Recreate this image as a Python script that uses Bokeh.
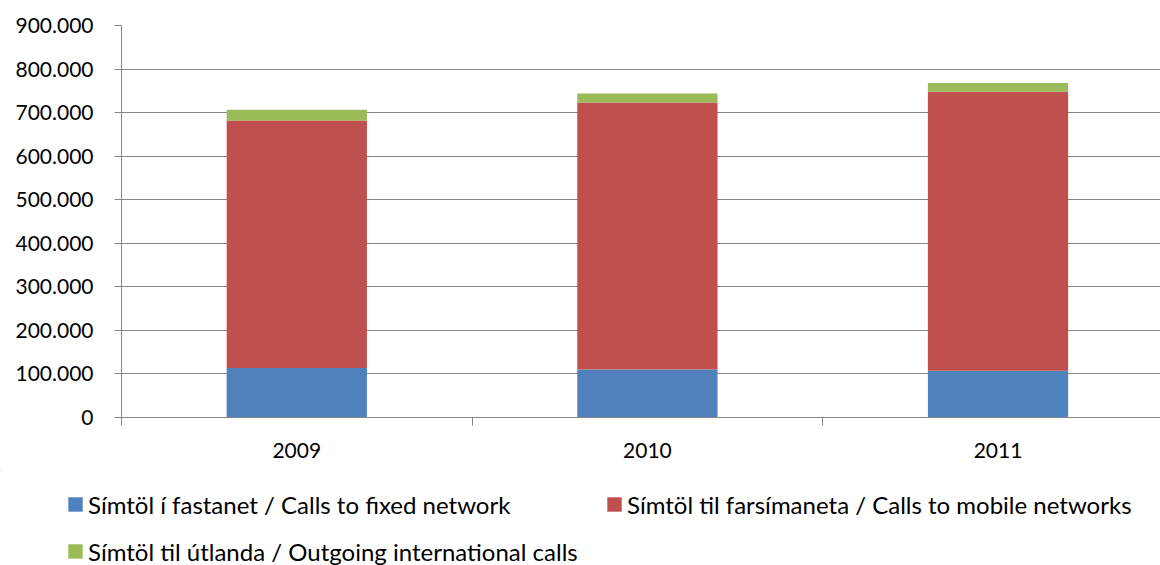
from bokeh.plotting import figure
from bokeh.models import (ColumnDataSource, FixedTicker, Range1d, Legend, LegendItem)
from bokeh.layouts import column
from bokeh.embed import file_html
from bokeh.resources import INLINE

# ---- data ----
years = ["2009", "2010", "2011"]
x_pos = [1, 2, 3]
fixed = [113500, 110000, 107500]
mobile = [568500, 613500, 640500]
international = [24500, 20500, 20000]
series_names = [
    "Símtöl í fastanet / Calls to fixed network",
    "Símtöl til farsímaneta / Calls to mobile networks",
    "Símtöl til útlanda / Outgoing international calls",
]
y_ticks = [0, 100000, 200000, 300000, 400000, 500000, 600000, 700000, 800000, 900000]
y_tick_labels = ["0", "100.000", "200.000", "300.000", "400.000", "500.000",
                 "600.000", "700.000", "800.000", "900.000"]
colors = ["#4F81BD", "#C0504D", "#9BBB59"]
stackers = ["fixed", "mobile", "intl"]

FONT = "Lato"
FS = "21px"
LFS = "24px"

source = ColumnDataSource(dict(x=x_pos, fixed=fixed, mobile=mobile, intl=international))

W = 1160
H1 = 470
H2 = 95
p = figure(width=W, height=H1, output_backend="svg", toolbar_location=None,
           x_range=Range1d(0.5, 0.5 + (W - 121) / 350.6), y_range=Range1d(0, 900000),
           min_border_left=121, min_border_right=0, min_border_top=25,
           min_border_bottom=H1 - 417)
p.outline_line_color = None
p.frame_align = False

p.vbar_stack(stackers, x="x", width=0.4, source=source, color=colors, line_color=None)

# y axis
p.yaxis.ticker = FixedTicker(ticks=y_ticks)
p.yaxis.major_label_overrides = {t: l for t, l in zip(y_ticks, y_tick_labels)}
p.yaxis.axis_line_color = "#868686"
p.yaxis.major_tick_line_color = "#868686"
p.yaxis.major_tick_out = 7
p.yaxis.major_tick_in = 0
p.yaxis.minor_tick_line_color = None
p.yaxis.major_label_standoff = 21
p.yaxis.major_label_text_font = FONT
p.yaxis.major_label_text_font_size = FS
p.yaxis.major_label_text_color = "#000000"

# x axis
p.xaxis.ticker = FixedTicker(ticks=x_pos, minor_ticks=[0.5, 1.5, 2.5, 3.5])
p.xaxis.major_label_overrides = {x: y for x, y in zip(x_pos, years)}
p.xaxis.axis_line_color = "#868686"
p.xaxis.major_tick_line_color = None
p.xaxis.major_tick_out = 0
p.xaxis.major_tick_in = 0
p.xaxis.minor_tick_line_color = "#868686"
p.xaxis.minor_tick_out = 8
p.xaxis.minor_tick_in = 0
p.xaxis.major_label_standoff = 17
p.xaxis.major_label_text_font = FONT
p.xaxis.major_label_text_font_size = FS
p.xaxis.major_label_text_color = "#000000"

p.xgrid.grid_line_color = None
p.ygrid.ticker = FixedTicker(ticks=y_ticks)
p.ygrid.grid_line_color = "#868686"
p.ygrid.grid_line_width = 1

# ---- legend strip below the chart ----
# same stacked bars, kept outside this strip's visible range (hidden), used for legend glyphs
p2 = figure(width=W, height=H2, output_backend="svg", toolbar_location=None,
            x_range=Range1d(100, 100 + W), y_range=Range1d(-H2, 0),
            min_border=0, x_axis_type=None, y_axis_type=None)
p2.outline_line_color = None
p2.frame_align = False
p2.xgrid.grid_line_color = None
p2.ygrid.grid_line_color = None
legend_renderers = p2.vbar_stack(stackers, x="x", width=0.4, source=source,
                                 color=colors, line_color=None)

common = dict(orientation="horizontal", padding=0, margin=0, spacing=0,
              border_line_color=None, background_fill_alpha=0,
              glyph_width=18, glyph_height=18, label_height=30,
              label_standoff=4, label_text_font=FONT,
              label_text_font_size=LFS, label_text_color="#000000")

legend_locs = [(66, 46), (605, 46), (66, -1)]
for name, r, loc in zip(series_names, legend_renderers, legend_locs):
    lg = Legend(items=[LegendItem(label=name, renderers=[r])], location=loc, **common)
    p2.add_layout(lg, "center")

layout = column(p, p2, spacing=0)
open("out.html", "w").write(file_html(layout, INLINE))
